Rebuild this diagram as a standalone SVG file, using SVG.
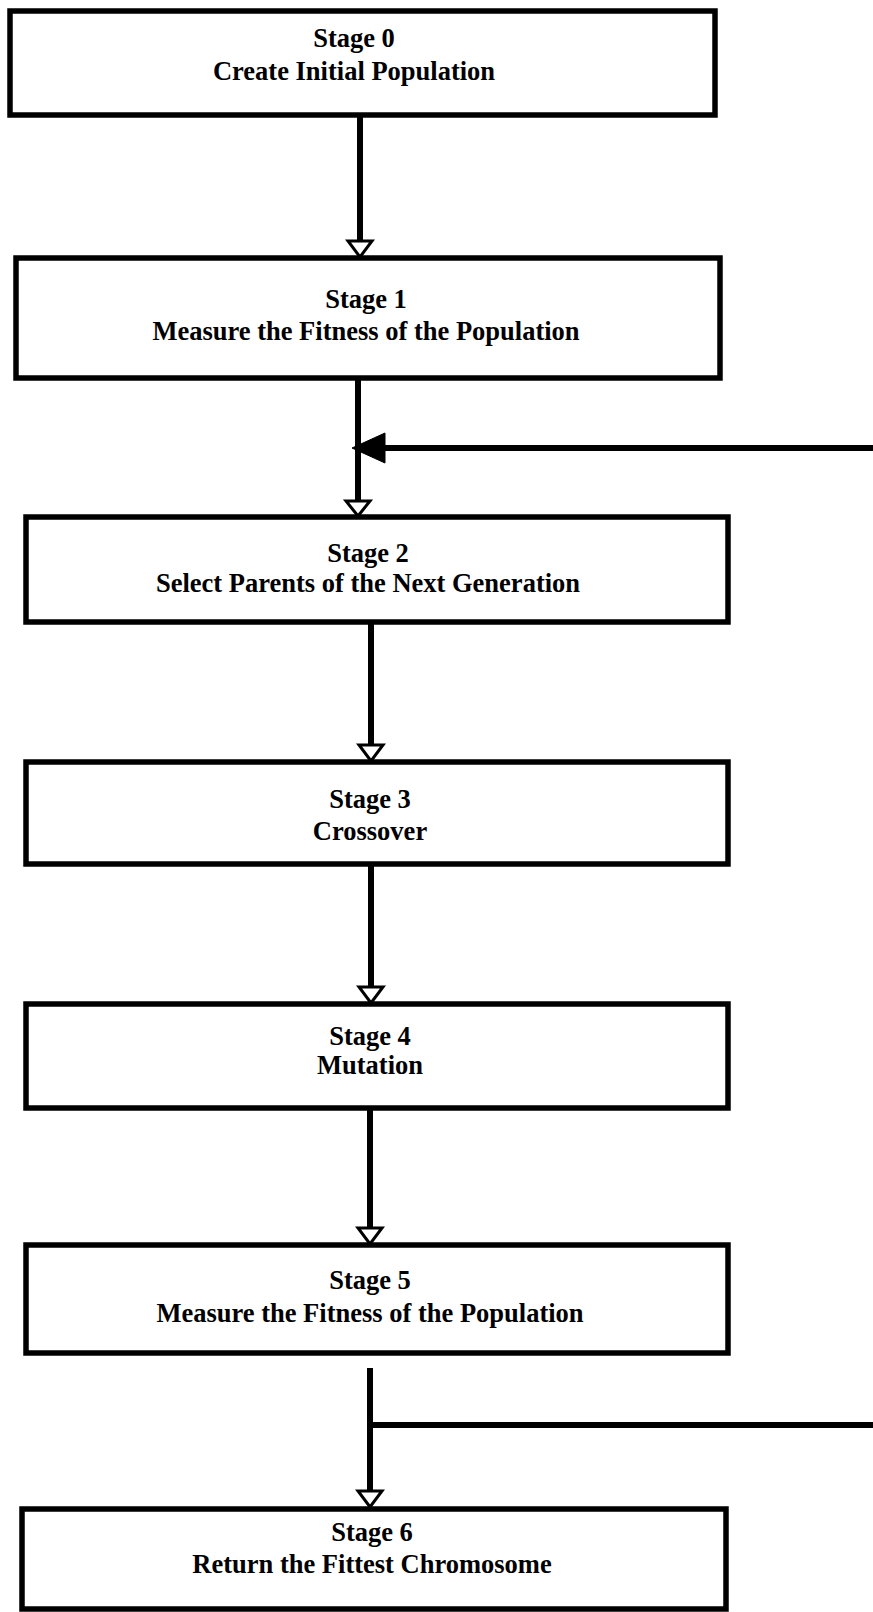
<svg xmlns="http://www.w3.org/2000/svg" width="873" height="1612" viewBox="0 0 873 1612">
<defs>
<style>
.box{fill:#fff;stroke:#000;stroke-width:5.5}
.lbl{font-family:"Liberation Serif","Times New Roman",serif;font-weight:bold;font-size:26.5px;fill:#000;text-anchor:middle}
.ln{stroke:#000;stroke-width:6;fill:none}
.open{fill:#fff;stroke:#000;stroke-width:3;stroke-linejoin:miter}
.solid{fill:#000;stroke:#000;stroke-width:1}
</style>
</defs>
<rect width="873" height="1612" fill="#fff"/>
<g id="connectors">
<line class="ln" x1="360" y1="117" x2="360" y2="242"/>
<polygon class="open" points="348,241 372,241 360,257"/>
<line class="ln" x1="358" y1="380" x2="358" y2="502"/>
<polygon class="open" points="346,501 370,501 358,516"/>
<line class="ln" x1="380" y1="448" x2="873" y2="448"/>
<polygon class="solid" points="352,448 385,433 385,463"/>
<line class="ln" x1="371" y1="622" x2="371" y2="746"/>
<polygon class="open" points="359,745 383,745 371,761"/>
<line class="ln" x1="371" y1="864" x2="371" y2="988"/>
<polygon class="open" points="359,987 383,987 371,1003"/>
<line class="ln" x1="370" y1="1108" x2="370" y2="1229"/>
<polygon class="open" points="358,1228 382,1228 370,1244"/>
<line class="ln" x1="370" y1="1368" x2="370" y2="1492"/>
<polygon class="open" points="358,1491 382,1491 370,1507"/>
<line class="ln" x1="367" y1="1425" x2="873" y2="1425"/>
</g>
<g id="stage0">
<rect class="box" x="10" y="11" width="705" height="104"/>
<text class="lbl" x="354" y="47">Stage 0</text>
<text class="lbl" x="354" y="80">Create Initial Population</text>
</g>
<g id="stage1">
<rect class="box" x="16" y="258" width="704" height="120"/>
<text class="lbl" x="366" y="308">Stage 1</text>
<text class="lbl" x="366" y="340">Measure the Fitness of the Population</text>
</g>
<g id="stage2">
<rect class="box" x="26" y="517" width="702" height="105"/>
<text class="lbl" x="368" y="562">Stage 2</text>
<text class="lbl" x="368" y="592">Select Parents of the Next Generation</text>
</g>
<g id="stage3">
<rect class="box" x="26" y="762" width="702" height="102"/>
<text class="lbl" x="370" y="808">Stage 3</text>
<text class="lbl" x="370" y="840">Crossover</text>
</g>
<g id="stage4">
<rect class="box" x="26" y="1004" width="702" height="104"/>
<text class="lbl" x="370" y="1045">Stage 4</text>
<text class="lbl" x="370" y="1074">Mutation</text>
</g>
<g id="stage5">
<rect class="box" x="26" y="1245" width="702" height="108"/>
<text class="lbl" x="370" y="1289">Stage 5</text>
<text class="lbl" x="370" y="1322">Measure the Fitness of the Population</text>
</g>
<g id="stage6">
<rect class="box" x="22" y="1509" width="704" height="100"/>
<text class="lbl" x="372" y="1541">Stage 6</text>
<text class="lbl" x="372" y="1573">Return the Fittest Chromosome</text>
</g>
</svg>
